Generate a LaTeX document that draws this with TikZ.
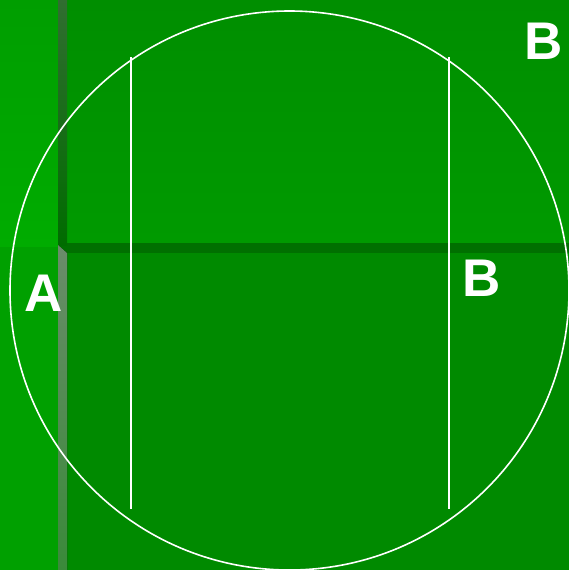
\documentclass[tikz,border=0pt]{standalone}
\usepackage{fontspec}
\setmainfont{Liberation Sans}
\usetikzlibrary{positioning}
\definecolor{lawntop}{HTML}{009E00}
\definecolor{lawnmid}{HTML}{00AC00}
\definecolor{lawnlow}{HTML}{00A000}
\definecolor{fieldtop}{HTML}{008E00}
\definecolor{fieldmid}{HTML}{009A00}
\definecolor{fieldlow}{HTML}{008A00}
\definecolor{seam}{HTML}{007000}
\definecolor{posttop}{HTML}{306E30}
\definecolor{postmid}{HTML}{006C00}
\definecolor{shadetop}{HTML}{6A8C6A}
\definecolor{shadelow}{HTML}{3A8A3A}
\tikzset{
  zone/.style={draw=none},
  chalk/.style={draw=white, line width=1.6pt},
  marker/.style={text=white, inner sep=0pt,
                 font=\fontsize{53}{53}\selectfont\bfseries}}

\begin{document}
\begin{tikzpicture}[x=1pt, y=-1pt]
  \useasboundingbox (0,0) rectangle (569,570);
  % ground
  \fill[zone, top color=lawntop, bottom color=lawnmid] (0,0) rectangle (58,247);
  \fill[zone, lawnlow] (0,247) rectangle (58,570);
  \fill[zone, top color=fieldtop, bottom color=fieldmid] (67,0) rectangle (569,243);
  \fill[zone, fieldlow] (67,253) rectangle (569,570);
  % dark bands
  \fill[zone, seam] (58,243) rectangle (569,253);
  \fill[zone, top color=posttop, bottom color=postmid] (58,0) rectangle (67,245);
  \fill[zone, top color=shadetop, bottom color=shadelow] (58,245) -- (67,253) -- (67,570) -- (58,570) -- cycle;
  % circle and lines
  \draw[chalk] (289.5,290.5) circle (279.5);
  \draw[chalk] (131,57) -- (131,509);
  \draw[chalk] (449,57) -- (449,509);
  % labels
  \node[marker] (labA) at (44,293) {A};
  \node[marker] (labB) at (481.5,278) {B};
  \node[marker] (labBtop) at (544,41) {B};
\end{tikzpicture}
\end{document}
